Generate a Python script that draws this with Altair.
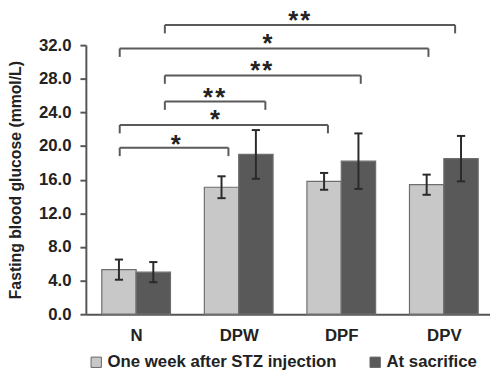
import json
import altair as alt
import pandas as pd

# ---- data ----
groups = ["N", "DPW", "DPF", "DPV"]
series = ["One week after STZ injection", "At sacrifice"]
week_mean = [5.3, 15.1, 15.8, 15.4]
week_err = [1.2, 1.3, 1.0, 1.2]
sac_mean = [5.0, 19.0, 18.2, 18.5]
sac_err = [1.2, 2.9, 3.3, 2.7]
y_ticks = [0, 4, 8, 12, 16, 20, 24, 28, 32]

# significance brackets (x in group units, y in mmol/L)
br_x1 = [-0.16, -0.16, 0.28, 0.28, -0.16, 0.28]
br_x2 = [0.90, 1.87, 1.26, 2.19, 2.85, 3.11]
br_y = [19.8, 22.5, 25.3, 28.4, 31.6, 34.4]
br_label = ["*", "*", "**", "**", "*", "**"]
star_x = [0.385, 0.77, 0.76, 1.22, 1.28, 1.59]
star_y = [20.75, 23.7, 26.3, 29.5, 32.75, 35.5]

colors = ["#c8c8c8", "#595959"]
FONT = "Liberation Sans"

# ---- build tables ----
BW = 0.335
rows = []
for i, g in enumerate(groups):
    for s, (m, e, off) in enumerate([(week_mean[i], week_err[i], -BW),
                                     (sac_mean[i], sac_err[i], 0.0)]):
        x0 = i + off
        rows.append(dict(group=g, series=series[s], x0=x0, x1=x0 + BW,
                         xc=x0 + BW / 2, mean=m, lo=m - e, hi=m + e,
                         zero=0.0, cl=x0 + BW / 2 - 0.04,
                         cr=x0 + BW / 2 + 0.04))
bars = pd.DataFrame(rows)

seg = []
for a, b, y in zip(br_x1, br_x2, br_y):
    seg.append(dict(xa=a, xb=b, ya=y, yb=y))
    seg.append(dict(xa=a, xb=a, ya=y, yb=y - 1.0))
    seg.append(dict(xa=b, xb=b, ya=y, yb=y - 1.0))
segs = pd.DataFrame(seg)
# hair space between stars to widen their spacing as in the figure
stars = pd.DataFrame(dict(x=star_x, y=star_y,
                          t=["\u200a".join(s) for s in br_label]))

label_expr = json.dumps(groups) + "[datum.value]"

xscale = alt.Scale(domain=[-0.49, 3.45], nice=False, zero=False)
yscale = alt.Scale(domain=[0, 32], nice=False)

xaxis = alt.Axis(values=[0, 1, 2, 3], labelExpr=label_expr,
                 title=None, grid=False, ticks=False,
                 labelPadding=14, labelFontSize=17,
                 labelFontWeight="bold", labelFont=FONT,
                 labelColor="#222", domainColor="#555",
                 domainWidth=2, labelOverlap=False)
yaxis = alt.Axis(values=y_ticks, tickCount=9, format=".1f", grid=False,
                 title="Fasting blood glucose (mmol/L)",
                 titleFont=FONT, titleFontSize=16,
                 titleFontWeight="bold", titleColor="#222",
                 titleX=-71, titleY=136.5, titleBaseline="middle",
                 titleAngle=-90,
                 labelFont=FONT, labelFontSize=17,
                 labelFontWeight="bold", labelColor="#222",
                 labelPadding=9, tickSize=6, tickWidth=2,
                 tickColor="#555", domainColor="#555",
                 domainWidth=2, labelOverlap=False, labelFlush=False)


def X(f):
    return alt.X(f, scale=xscale, axis=xaxis)


def Y(f):
    return alt.Y(f, scale=yscale, axis=yaxis)


base = alt.Chart(bars)

bar_layer = base.mark_rect(stroke="#6e6e6e", strokeWidth=1.2).encode(
    x=X("x0:Q"),
    x2="x1:Q",
    y=Y("mean:Q"),
    y2="zero:Q",
    fill=alt.Fill("series:N", scale=alt.Scale(domain=series, range=colors),
                  legend=alt.Legend(title=None, orient="none",
                                    direction="horizontal", legendX=2,
                                    legendY=313, symbolType="square",
                                    symbolSize=110, symbolStrokeColor="#666",
                                    symbolStrokeWidth=1, labelFont=FONT,
                                    labelFontSize=17, labelFontWeight="bold",
                                    labelColor="#222", labelOffset=3,
                                    columnPadding=30, labelLimit=400,
                                    padding=0)),
)

err_v = base.mark_rule(color="#2a2a2a", strokeWidth=2).encode(
    x=X("xc:Q"), y=Y("lo:Q"), y2="hi:Q")
err_top = base.mark_rule(color="#2a2a2a", strokeWidth=2).encode(
    x=X("cl:Q"), x2="cr:Q", y=Y("hi:Q"))
err_bot = base.mark_rule(color="#2a2a2a", strokeWidth=2).encode(
    x=X("cl:Q"), x2="cr:Q", y=Y("lo:Q"))

bracket_layer = alt.Chart(segs).mark_rule(color="#5a5a5a", strokeWidth=2).encode(
    x=X("xa:Q"), x2="xb:Q", y=Y("ya:Q"), y2="yb:Q")

star_layer = alt.Chart(stars).mark_text(
    font=FONT, fontSize=26, fontWeight="bold", color="#222",
    baseline="alphabetic", dy=13).encode(
    x=X("x:Q"), y=Y("y:Q"), text="t:N")

chart = alt.layer(bar_layer, err_v, err_top, err_bot, bracket_layer,
                  star_layer).properties(
    width=410, height=273,
    autosize=alt.AutoSizeParams(type="none"),
    padding={"left": 79, "top": 35, "right": 0, "bottom": 58},
).configure_view(stroke=None)

chart.save("out.html", embed_options={"renderer": "svg", "actions": False})
